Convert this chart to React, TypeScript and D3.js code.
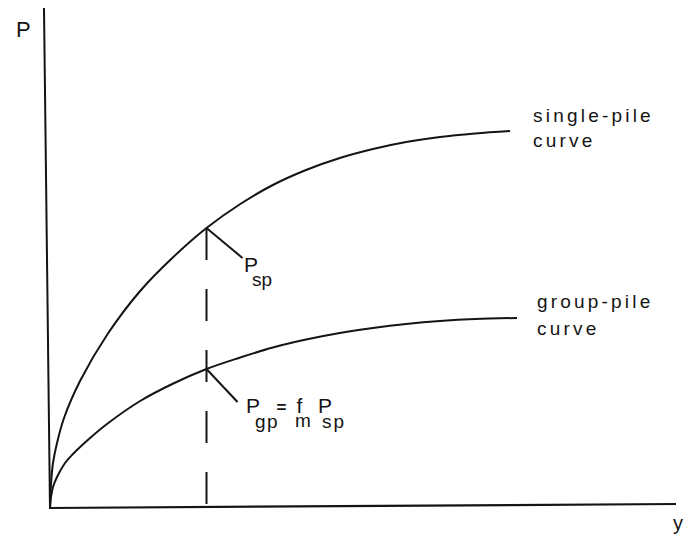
import React from "react";
import * as d3 from "d3";

// Displacement (y) and load (P) for the single-pile curve
const singleDisp = [0, 0.016, 0.048, 0.112, 0.224, 0.48, 0.91, 1.44, 1.97, 2.5, 3.04, 3.56, 4.09, 4.63, 5.16, 5.69, 6.23, 6.79, 7.35];
const singleLoad = [0, 0.48, 0.9, 1.3, 1.8, 2.54, 3.46, 4.34, 5.02, 5.6, 6.08, 6.46, 6.76, 7.0, 7.18, 7.32, 7.42, 7.49, 7.54];

// Displacement (y) and load (P) for the group-pile curve
const groupDisp = [0, 0.016, 0.048, 0.112, 0.24, 0.367, 0.64, 0.91, 1.44, 1.97, 2.5, 3.04, 3.56, 4.09, 4.63, 5.16, 5.69, 6.23, 6.79, 7.46];
const groupLoad = [0, 0.22, 0.42, 0.62, 0.9, 1.08, 1.4, 1.68, 2.14, 2.49, 2.78, 3.01, 3.21, 3.37, 3.5, 3.6, 3.68, 3.74, 3.78, 3.8];

// Displacement at which the two loads are compared
const refDisp = 2.5;

const axisLabels = { x: "y", y: "P" };
const singleLabel = ["single-pile", "curve"];
const groupLabel = ["group-pile", "curve"];

const W = 684;
const H = 540;
const INK = "#141414";
const FONT = "'Liberation Sans', Arial, Helvetica, sans-serif";

export default function App() {
  const x = d3.scaleLinear().domain([0, 10]).range([50, 676]);
  const y = d3.scaleLinear().domain([0, 10]).range([508, 8]);

  const line = d3
    .line<[number, number]>()
    .x((d) => x(d[0]))
    .y((d) => y(d[1]))
    .curve(d3.curveCatmullRom.alpha(0.5));

  const single: [number, number][] = singleDisp.map((v, i) => [v, singleLoad[i]]);
  const group: [number, number][] = groupDisp.map((v, i) => [v, groupLoad[i]]);

  const pSp = singleLoad[singleDisp.indexOf(refDisp)];
  const pGp = groupLoad[groupDisp.indexOf(refDisp)];

  const kx = x(refDisp);
  const kSp = y(pSp);
  const kGp = y(pGp);

  const sEnd = single[single.length - 1];
  const gEnd = group[group.length - 1];

  const x0 = x(0);
  const y0 = y(0);

  return (
    <svg
      width={W}
      height={H}
      style={{ position: "absolute", left: 0, top: 0, background: "#fff" }}
      fontFamily={FONT}
    >
      <rect width={W} height={H} fill="#fff" />

      {/* axes */}
      <line x1={x0 - 6} y1={y(10)} x2={x0} y2={y0 + 1} stroke={INK} strokeWidth={2} />
      <line x1={x0 - 1} y1={y0} x2={x(10)} y2={y0 - 4} stroke={INK} strokeWidth={2.2} />
      <text x={16} y={37} fontSize={22} fill={INK}>
        {axisLabels.y}
      </text>
      <text x={673} y={530} fontSize={20} fill={INK}>
        {axisLabels.x}
      </text>

      {/* load-displacement curves */}
      <path d={line(single) ?? ""} fill="none" stroke={INK} strokeWidth={2} />
      <path d={line(group) ?? ""} fill="none" stroke={INK} strokeWidth={2} />

      {/* reference displacement */}
      <line
        x1={kx}
        y1={kSp}
        x2={kx}
        y2={y0}
        stroke={INK}
        strokeWidth={2}
        strokeDasharray="32,29"
      />

      {/* P_sp annotation */}
      <line x1={kx} y1={kSp} x2={kx + 36} y2={kSp + 30} stroke={INK} strokeWidth={2} />
      <text fontSize={21} fill={INK}>
        <tspan x={kx + 37.5} y={kSp + 44}>P</tspan>
        <tspan x={kx + 45.5} y={kSp + 58} fontSize={19}>sp</tspan>
      </text>

      {/* P_gp = f_m P_sp annotation */}
      <line x1={kx} y1={kGp} x2={kx + 31} y2={kGp + 33} stroke={INK} strokeWidth={2} />
      <text fontSize={21} fill={INK}>
        <tspan x={kx + 39.5} y={kGp + 44}>P</tspan>
        <tspan x={kx + 48.5} y={kGp + 59} fontSize={19} letterSpacing={1.5}>gp</tspan>
        <tspan x={kx + 70} y={kGp + 44} fontSize={17} fontWeight="bold">=</tspan>
        <tspan x={kx + 90} y={kGp + 44}>f</tspan>
        <tspan x={kx + 88.5} y={kGp + 58} fontSize={19}>m</tspan>
        <tspan x={kx + 111.5} y={kGp + 44}>P</tspan>
        <tspan x={kx + 115.5} y={kGp + 59} fontSize={19} letterSpacing={2}>sp</tspan>
      </text>

      {/* curve labels */}
      <text x={x(sEnd[0]) + 23} y={y(sEnd[1]) - 9} fontSize={19} letterSpacing={3.2} fill={INK}>
        {singleLabel[0]}
      </text>
      <text x={x(sEnd[0]) + 23} y={y(sEnd[1]) + 16} fontSize={19} letterSpacing={3.2} fill={INK}>
        {singleLabel[1]}
      </text>
      <text x={x(gEnd[0]) + 20} y={y(gEnd[1]) - 10} fontSize={19} letterSpacing={3.2} fill={INK}>
        {groupLabel[0]}
      </text>
      <text x={x(gEnd[0]) + 20} y={y(gEnd[1]) + 17} fontSize={19} letterSpacing={3.2} fill={INK}>
        {groupLabel[1]}
      </text>
    </svg>
  );
}
